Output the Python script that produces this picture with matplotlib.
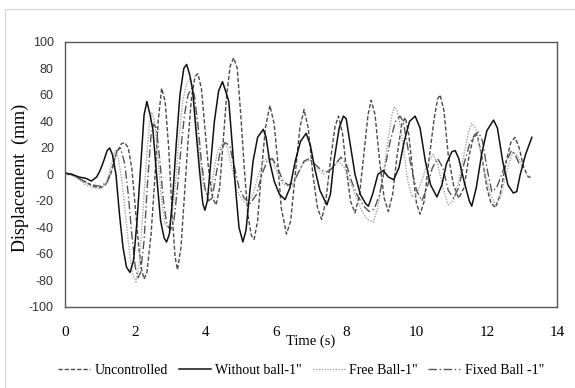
import matplotlib
matplotlib.use("Agg")
import matplotlib.pyplot as plt
from matplotlib.patches import Rectangle

plt.rcParams["axes.unicode_minus"] = False

# Uncontrolled
unc_t = [0, 0.2, 0.4, 0.6, 0.8, 1.0, 1.15, 1.3, 1.45, 1.6, 1.7, 1.8, 1.9, 2.0, 2.1, 2.18, 2.25, 2.33,
         2.45, 2.55, 2.65, 2.75, 2.85, 2.95, 3.05, 3.13, 3.2, 3.3, 3.4, 3.5, 3.6, 3.7, 3.78, 3.88,
         3.98, 4.08, 4.2, 4.3, 4.4, 4.5, 4.6, 4.7, 4.8, 4.9, 5.0, 5.1, 5.2, 5.3, 5.38, 5.48, 5.58,
         5.7, 5.83, 5.95, 6.05, 6.15, 6.3, 6.42, 6.55, 6.68, 6.8, 6.92, 7.05, 7.18, 7.3, 7.42, 7.55,
         7.68, 7.78, 7.9, 8.0, 8.12, 8.25, 8.38, 8.5, 8.62, 8.71, 8.82, 8.95, 9.08, 9.2, 9.32, 9.45,
         9.58, 9.68, 9.78, 9.9, 10.0, 10.1, 10.22, 10.35, 10.5, 10.6, 10.67, 10.78, 10.9, 11.05,
         11.2, 11.35, 11.5, 11.62, 11.72, 11.85, 12.0, 12.12, 12.25, 12.38, 12.55, 12.68, 12.8,
         12.92, 13.05, 13.18, 13.3]
unc_v = [1, 0, -3, -6, -9, -10, -8, 0, 15, 23, 24, 20, 5, -25, -55, -72, -79, -74,
         -45, -5, 40, 65, 55, 20, -30, -62, -72, -55, -15, 25, 58, 74, 76, 65,
         35, 5, -18, -23, -10, 25, 60, 82, 88, 80, 45, 5, -30, -46, -49, -35, 0,
         35, 52, 38, 10, -25, -45, -35, 0, 35, 49, 35, 0, -25, -34, -20, 10,
         36, 44, 30, 5, -20, -29, -15, 15, 45, 56, 45, 10, -18, -28, -15, 15,
         38, 43, 30, 0, -22, -30, -20, 10, 42, 57, 60, 48, 15, -8,
         -18, -10, 15, 28, 30, 15, -10, -22, -25, -15, 10, 24, 28,
         20, 5, -2, -2]

# Without ball-1"
wob_t = [0, 0.2, 0.4, 0.6, 0.75, 0.9, 1.0, 1.1, 1.2, 1.27, 1.35, 1.45, 1.55, 1.65, 1.75, 1.85,
         1.95, 2.05, 2.15, 2.25, 2.33, 2.42, 2.5, 2.62, 2.72, 2.82, 2.89, 2.97, 3.07, 3.17, 3.27,
         3.38, 3.46, 3.55, 3.63, 3.72, 3.82, 3.92, 3.98, 4.05, 4.15, 4.25, 4.37, 4.48, 4.58, 4.66,
         4.75, 4.85, 4.95, 5.06, 5.15, 5.25, 5.35, 5.48, 5.64, 5.72, 5.82, 5.95, 6.1, 6.26, 6.4,
         6.55, 6.7, 6.86, 6.98, 7.1, 7.25, 7.45, 7.55, 7.65, 7.8, 7.92, 8.0, 8.1, 8.25, 8.4, 8.55,
         8.63, 8.75, 8.9, 9.05, 9.2, 9.35, 9.5, 9.65, 9.8, 9.96, 10.1, 10.25, 10.4, 10.58, 10.72,
         10.85, 11.0, 11.1, 11.2, 11.35, 11.5, 11.57, 11.7, 11.85, 12.0, 12.19, 12.3, 12.45, 12.6,
         12.75, 12.85, 12.95, 13.1, 13.28]
wob_v = [1, 0, -2, -3, -5, -2, 3, 10, 18, 20, 15, 0, -30, -55, -70, -74,
         -65, -35, 5, 45, 55, 45, 34, -5, -35, -48, -51, -45, -15, 25, 60,
         80, 83, 75, 64, 35, 5, -22, -27, -20, 10, 40, 63, 70, 62, 55,
         25, -10, -40, -51, -42, -15, 10, 28, 34, 28, 10, -5, -15, -19, -10,
         10, 25, 31, 22, 5, -12, -23, -15, 10, 35, 44, 42, 25, 0, -15, -22,
         -24, -15, 0, 3, -2, -4, 5, 25, 40, 44, 35, 10, -8, -17, -8,
         8, 17, 18, 12, -5, -20, -24, -10, 15, 33, 41, 35, 10, -8,
         -14, -13, 0, 15, 28]

# Free Ball-1"
fre_t = [0, 0.2, 0.4, 0.6, 0.8, 1.0, 1.15, 1.3, 1.42, 1.52, 1.62, 1.72, 1.82, 1.92, 2.02, 2.1,
         2.2, 2.3, 2.4, 2.47, 2.55, 2.65, 2.75, 2.85, 2.95, 3.05, 3.15, 3.25, 3.35, 3.45, 3.56,
         3.65, 3.75, 3.85, 3.95, 4.05, 4.15, 4.25, 4.35, 4.5, 4.62, 4.75, 4.9, 5.05, 5.2, 5.35,
         5.5, 5.65, 5.8, 5.92, 6.05, 6.2, 6.35, 6.49, 6.65, 6.8, 6.97, 7.15, 7.35, 7.55, 7.78,
         7.95, 8.1, 8.25, 8.45, 8.6, 8.77, 8.9, 9.05, 9.2, 9.3, 9.37, 9.45, 9.55, 9.65, 9.75,
         9.87, 10.0, 10.15, 10.3, 10.47, 10.6, 10.75, 10.9, 11.05, 11.2, 11.35, 11.48, 11.57,
         11.68, 11.8, 11.95, 12.1, 12.24, 12.38, 12.5, 12.62, 12.75, 12.88, 13.0]
fre_v = [0, -1, -4, -8, -10, -11, -8, 5, 18, 12, -5, -30, -55, -75, -81, -70,
         -35, 5, 38, 47, 40, 10, -20, -38, -40, -30, -5, 30, 55, 68, 72,
         60, 35, 10, -10, -16, -12, 5, 18, 24, 20, 5, -12, -20, -22, -15,
         0, 10, 13, 10, 0, -7, -9, -8, 2, 9, 11, 5, 0, 4, 10,
         5, -5, -15, -28, -34, -36, -25, 0, 28, 45, 51, 48, 35, 15, -5,
         -17, -15, -5, 8, 15, 8, -10, -23, -20, -5, 15, 32, 38.6,
         35, 20, 0, -15, -23, -18, -5, 8, 17, 14, 6]

# Fixed Ball -1"
fix_t = [0, 0.2, 0.4, 0.6, 0.8, 1.0, 1.2, 1.35, 1.48, 1.58, 1.7, 1.8, 1.9, 2.0, 2.08, 2.15,
         2.25, 2.35, 2.45, 2.52, 2.6, 2.7, 2.8, 2.9, 3.0, 3.1, 3.2, 3.3, 3.4, 3.5, 3.6, 3.68,
         3.78, 3.88, 3.98, 4.08, 4.18, 4.3, 4.42, 4.55, 4.68, 4.8, 4.95, 5.1, 5.27, 5.45, 5.6,
         5.75, 5.9, 6.05, 6.2, 6.35, 6.5, 6.65, 6.8, 6.95, 7.1, 7.3, 7.5, 7.7, 7.85, 8.0, 8.15,
         8.3, 8.5, 8.65, 8.8, 8.95, 9.1, 9.25, 9.4, 9.53, 9.62, 9.72, 9.85, 10.0, 10.15, 10.3,
         10.45, 10.6, 10.75, 10.9, 11.05, 11.2, 11.35, 11.5, 11.65, 11.76, 11.88, 12.0, 12.14,
         12.28, 12.42, 12.56, 12.7, 12.82, 12.92]
fix_v = [1, 0, -3, -6, -8, -9, -6, 5, 18, 20, 8, -15, -45, -70, -78, -74,
         -50, -5, 30, 38, 35, 10, -20, -38, -42, -35, -10, 20, 45, 60, 65, 60,
         38, 10, -10, -20, -18, 0, 18, 24, 22, 8, -10, -18, -22, -15, 0,
         10, 12, 5, -5, -8, -6, 2, 10, 12, 8, 3, 2, 8, 13, 8, -5,
         -15, -24, -28, -26, -15, 5, 25, 40, 44, 40, 25, 5, -12, -20, -10,
         5, 12, 5, -12, -18, -10, 8, 22, 30, 32, 25, 5, -13,
         -10, 0, 10, 18, 14, 8]

fig = plt.figure(figsize=(5.75, 3.88), dpi=100)
ax = fig.add_axes([0.113, 0.209, 0.856, 0.683])

ax.plot(unc_t, unc_v, color="#4a4a4a", lw=1.0, ls=(0, (3, 1.5)), label="Uncontrolled")
ax.plot(fre_t, fre_v, color="#a6a6a6", lw=1.0, ls=(0, (1, 1)), label='Free Ball-1"')
ax.plot(fix_t, fix_v, color="#555555", lw=1.0, ls=(0, (6, 2, 1, 2)), label='Fixed Ball -1"')
ax.plot(wob_t, wob_v, color="#111111", lw=1.1, label='Without ball-1"')

ax.set_xlim(0, 14)
ax.set_ylim(-100, 100)
ax.set_xticks(range(0, 15, 2))
ax.set_yticks(range(-100, 101, 20))
ax.tick_params(length=0)
ax.tick_params(axis="y", pad=8)
ax.tick_params(axis="x", pad=14)
for lab in ax.get_yticklabels():
    lab.set_fontfamily("Liberation Sans")
    lab.set_fontsize(9)
    lab.set_color("#333333")
for lab in ax.get_xticklabels():
    lab.set_fontfamily("Liberation Serif")
    lab.set_fontsize(11)
for s in ax.spines.values():
    s.set_color("#595959")
    s.set_linewidth(1.0)

fig.text(20 / 575, 1 - 178 / 388, "Displacement  (mm)", rotation=90, ha="center", va="center",
         family="Liberation Serif", fontsize=13)
fig.text(311 / 575, 1 - 341 / 388, "Time (s)", ha="center", va="center",
         family="Liberation Serif", fontsize=10.5)

handles, labels = ax.get_legend_handles_labels()
order = [0, 3, 1, 2]
fig.legend([handles[i] for i in order], [labels[i] for i in order], loc="center",
           bbox_to_anchor=(301 / 575, 1 - 370 / 388), ncol=4, frameon=False,
           prop={"family": "Liberation Serif", "size": 10}, handlelength=2.3,
           handletextpad=0.3, columnspacing=0.8, borderaxespad=0, borderpad=0)

fig.patches.append(Rectangle((5 / 575, -0.01), 1.0, 1 - 9 / 388 + 0.01, transform=fig.transFigure,
                             fill=False, edgecolor="#d9d9d9", lw=1.0))

fig.savefig("out.png", dpi=100)
